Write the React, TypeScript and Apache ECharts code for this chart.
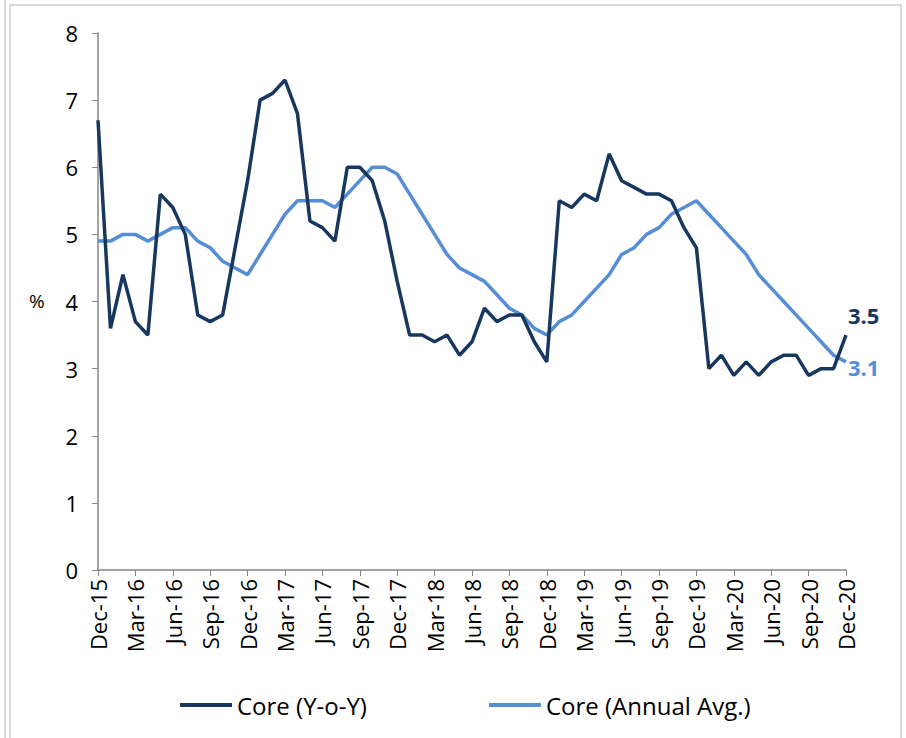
import React, { useEffect, useRef } from "react";
import * as echarts from "echarts";

const months = [
  "Dec-15",
  "Jan-16","Feb-16","Mar-16","Apr-16","May-16","Jun-16","Jul-16","Aug-16","Sep-16","Oct-16","Nov-16","Dec-16",
  "Jan-17","Feb-17","Mar-17","Apr-17","May-17","Jun-17","Jul-17","Aug-17","Sep-17","Oct-17","Nov-17","Dec-17",
  "Jan-18","Feb-18","Mar-18","Apr-18","May-18","Jun-18","Jul-18","Aug-18","Sep-18","Oct-18","Nov-18","Dec-18",
  "Jan-19","Feb-19","Mar-19","Apr-19","May-19","Jun-19","Jul-19","Aug-19","Sep-19","Oct-19","Nov-19","Dec-19",
  "Jan-20","Feb-20","Mar-20","Apr-20","May-20","Jun-20","Jul-20","Aug-20","Sep-20","Oct-20","Nov-20","Dec-20",
];

const coreYoY = [
  6.7,
  3.6, 4.4, 3.7, 3.5, 5.6, 5.4, 5.0, 3.8, 3.7, 3.8, 4.8, 5.8,
  7.0, 7.1, 7.3, 6.8, 5.2, 5.1, 4.9, 6.0, 6.0, 5.8, 5.2, 4.3,
  3.5, 3.5, 3.4, 3.5, 3.2, 3.4, 3.9, 3.7, 3.8, 3.8, 3.4, 3.1,
  5.5, 5.4, 5.6, 5.5, 6.2, 5.8, 5.7, 5.6, 5.6, 5.5, 5.1, 4.8,
  3.0, 3.2, 2.9, 3.1, 2.9, 3.1, 3.2, 3.2, 2.9, 3.0, 3.0, 3.5,
];

const coreAvg = [
  4.9,
  4.9, 5.0, 5.0, 4.9, 5.0, 5.1, 5.1, 4.9, 4.8, 4.6, 4.5, 4.4,
  4.7, 5.0, 5.3, 5.5, 5.5, 5.5, 5.4, 5.6, 5.8, 6.0, 6.0, 5.9,
  5.6, 5.3, 5.0, 4.7, 4.5, 4.4, 4.3, 4.1, 3.9, 3.8, 3.6, 3.5,
  3.7, 3.8, 4.0, 4.2, 4.4, 4.7, 4.8, 5.0, 5.1, 5.3, 5.4, 5.5,
  5.3, 5.1, 4.9, 4.7, 4.4, 4.2, 4.0, 3.8, 3.6, 3.4, 3.2, 3.1,
];

const seriesNames = ["Core (Y-o-Y)", "Core (Annual Avg.)"];
const DARK = "#17375e";
const LIGHT = "#558ed5";
const FONT = "'Open Sans', 'Noto Sans', sans-serif";

export default function App() {
  const ref = useRef<HTMLDivElement>(null);
  useEffect(() => {
    if (!ref.current) return;
    const chart = echarts.init(ref.current, null, { renderer: "svg" });
    const endLabel = (color: string, offset: number[]) => ({
      show: true,
      formatter: "{c}",
      color,
      fontSize: 22,
      fontWeight: "bold",
      fontFamily: FONT,
      distance: 2,
      offset,
    });
    chart.setOption({
      animation: false,
      backgroundColor: "#ffffff",
      textStyle: { fontFamily: FONT },
      graphic: [
        { type: "line", shape: { x1: 5, y1: 0, x2: 5, y2: 738 }, style: { stroke: "#d9d9d9", lineWidth: 2 } },
        { type: "rect", shape: { x: 10, y: 5, width: 891, height: 740 }, style: { fill: "none", stroke: "#d9d9d9", lineWidth: 2 } },
        { type: "text", left: 29, top: 291, style: { text: "%", fontSize: 19, fill: "#000", fontFamily: FONT } },
      ],
      grid: { left: 98, right: 60, top: 33, bottom: 168, containLabel: false },
      legend: {
        bottom: 16,
        left: 175,
        itemWidth: 52,
        itemHeight: 4,
        itemGap: 122,
        icon: "rect",
        textStyle: { fontSize: 24, color: "#000", fontFamily: FONT },
        data: seriesNames,
      },
      xAxis: {
        type: "category",
        data: months,
        boundaryGap: false,
        axisLine: { lineStyle: { color: "#868686", width: 1.5 } },
        axisTick: { show: true, interval: 2, length: 6, lineStyle: { color: "#868686" } },
        axisLabel: { interval: 2, rotate: 90, fontSize: 22, color: "#000", margin: 9, fontFamily: FONT },
        splitLine: { show: false },
      },
      yAxis: {
        type: "value",
        min: 0,
        max: 8,
        interval: 1,
        axisLine: { show: true, lineStyle: { color: "#868686", width: 1.5 } },
        axisTick: { show: true, length: 6, lineStyle: { color: "#868686" } },
        axisLabel: { fontSize: 22, color: "#000", margin: 20, fontFamily: FONT },
        splitLine: { show: false },
      },
      series: [
        {
          name: seriesNames[0],
          type: "line",
          data: coreYoY,
          symbol: "none",
          color: DARK,
          lineStyle: { color: DARK, width: 3.5 },
          endLabel: endLabel(DARK, [0, -20]),
          z: 3,
        },
        {
          name: seriesNames[1],
          type: "line",
          data: coreAvg,
          symbol: "none",
          color: LIGHT,
          lineStyle: { color: LIGHT, width: 3.5 },
          endLabel: endLabel(LIGHT, [0, 5]),
          z: 2,
        },
      ],
    });
    return () => chart.dispose();
  }, []);
  return (
    <div
      ref={ref}
      style={{ position: "fixed", left: 0, top: 0, width: 906, height: 738 }}
    />
  );
}
